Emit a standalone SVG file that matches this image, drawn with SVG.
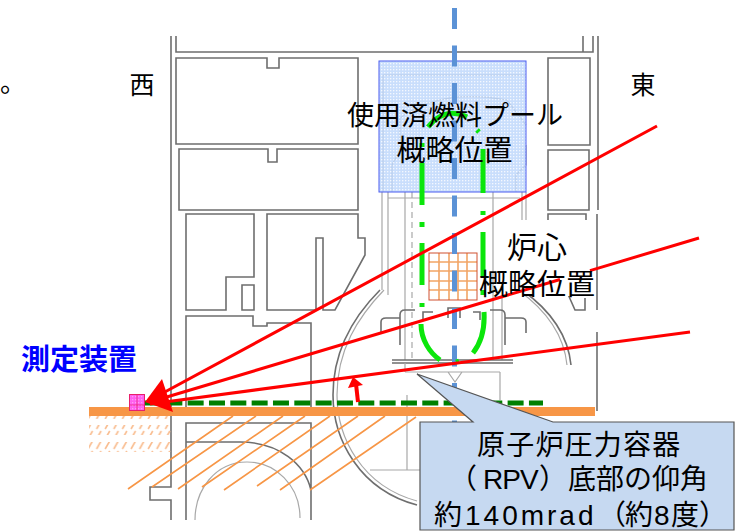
<svg xmlns="http://www.w3.org/2000/svg" width="735" height="532" viewBox="0 0 735 532">
<style>
.w{fill:none;stroke:#6e6e6e;stroke-width:1.6}
.t{fill:none;stroke:#a8a8a8;stroke-width:1.2}
.g{fill:none;stroke:#0be60b;stroke-width:5}
.r{fill:none;stroke:#ff0000;stroke-width:3}
.h{fill:none;stroke:#f79646;stroke-width:1.6}
text{font-family:"Noto Sans CJK JP","Noto Sans",sans-serif;fill:#000;text-anchor:middle}
.c{font-family:"Liberation Sans","Noto Sans CJK JP",sans-serif;font-size:28px;text-anchor:start}
</style>
<defs>
<pattern id="dots" width="3" height="3" patternUnits="userSpaceOnUse"><rect width="3" height="3" fill="#bcd6fb" fill-opacity=".8"/><rect width="1.3" height="1.3" fill="#fff" fill-opacity=".8"/></pattern>
<pattern id="pk" width="3" height="3" patternUnits="userSpaceOnUse"><rect width="3" height="3" fill="#ff5ff0"/><rect width="1.3" height="1.3" fill="#ff9df5"/></pattern>
<pattern id="tk" width="8.6" height="10" patternUnits="userSpaceOnUse"><path d="M2,9 L6.500,1" stroke="#f9bd90" stroke-width="1.6" fill="none"/></pattern>
</defs>
<g id="building">
<path class="w" d="M171,36V487H150V500H171V520M176,36V52H593V36M583,36V52M598,36V210M597,214V310M597,332V411"/>
<path class="w" d="M176,58H267V68H279V58H358V144H176Z"/>
<path class="w" d="M179,149H268V162H277V149H358V210H179Z"/>
<path class="w" d="M186,214H254V277H226V310H186Z"/>
<path class="w" d="M242,285H254V310H242Z"/>
<path class="w" d="M267,214H358V238H365V255L335,310H323V238H316V310H267Z"/>
<path class="w" d="M186,407V316H253V326H267V323H311V407"/>
<path class="w" d="M548,58H590V145H548ZM548,150H589V210H548ZM548,220V214H586V220"/>
<path class="w" d="M563,283L575,310H585V298"/>
<path class="w" d="M186,520V423H311V520M186,442H240C280,442 305,465 311,490"/>
<path class="t" d="M195,520C195,490 215,462 247,462C275,462 300,485 300,518"/>
<path class="t" d="M383,192V75H526M392,192V165L400,150V118Q440,88 507,100L526,125"/>
<path class="t" d="M526,145V165L516,175V192"/>
<path class="w" d="M380,290C355,315 333,350 333,395C333,440 360,490 417,505"/>
<path class="t" d="M384,290C358,317 337,350 337,395C337,438 362,486 417,501"/>
<path class="w" d="M522,290C550,310 568,335 571,365"/>
<path class="t" d="M518,290C546,310 564,335 567,365"/>
<path class="t" d="M382,192V290M388,192V295M522,192V290M526,192V290M388,198H520M493,192V360M502,220V360M405,192V360"/>
<path class="t" stroke-dasharray="6 4" d="M412,192V360"/>
<path class="w" d="M381,333V322Q381,318 386,318H400M400,345V315Q400,310 405,310H415M526,333V322Q526,318 521,318H505M505,345V315Q505,310 500,310H490M423,320V312H433M480,320V312H473M448,318V308H460V318"/>
<path class="w" d="M392,360H513M392,363H513"/>
<path class="t" d="M405,372H500M405,363V372M407,395V470M370,470H420M500,372V400M448,372L455,382L462,372"/>
</g>
<rect x="495" y="220" width="99" height="76" fill="#fff"/>
<g id="pool"><rect x="379" y="61" width="147" height="131" fill="url(#dots)" stroke="#4a5df0" stroke-width="1"/></g>
<g id="core">
<rect x="429" y="253" width="48" height="47" fill="#fff"/>
<path d="M439,253V300M449,253V300M458,253V300M467,253V300M429,262H477M429,271H477M429,281H477M429,290H477" stroke="#f2a566" stroke-width="1.6" fill="none"/>
<rect x="429" y="253" width="48" height="47" fill="none" stroke="#d05030" stroke-width="1"/>
</g>
<g id="ground">
<rect x="89" y="407" width="506" height="9" fill="#f79646"/>
<rect x="89" y="416" width="82" height="3" fill="url(#tk)"/>
<rect x="89" y="425" width="82" height="10" fill="url(#tk)"/>
<rect x="89" y="442" width="82" height="10" fill="url(#tk)"/>
<path class="h" d="M128,489L233,416M152,487L256,416M178,489L283,416M202,487L305,416M224,490L330,416M257,486L358,416M280,490L385,416M310,490L416,417"/>
</g>
<g id="axis"><path d="M454.5,8V424" stroke="#5b92d6" stroke-width="5" stroke-dasharray="21 16.5" fill="none"/></g>
<g id="vessel-outline">
<path class="g" d="M428,127Q445,106 467,117"/>
<path class="g" d="M422,143V147M422,163V205M422,222V227M422,243V285M422,303V307M421,324C421,340 430,353 440,360M456,362L459,361"/>
<path class="g" d="M477,130L479,132M483,149V193M483,211V215M483,232V277M483,290V295M484,312C485,330 481,343 473,353"/>
</g>
<g id="connectors">
<path d="M145,403H543" stroke="#008000" stroke-width="5" stroke-dasharray="16 5.33" fill="none"/>
<path class="r" d="M150,400L657,126M150,402L560,279.500M590,270.600L699,238"/>
<path class="r" d="M150,404L690,332"/>
<polygon points="145,402 162,379 173,412" fill="#ff0000"/>
<path d="M358,402L356,384" stroke="#ff0000" stroke-width="4" fill="none"/>
<polygon points="353,377 348,388 363,385" fill="#ff0000"/>
</g>
<g id="detector">
<rect x="129.500" y="394.500" width="15" height="16" fill="url(#pk)" stroke="#e8206a" stroke-width="1"/>
<path d="M129,405H145M137,394V411" stroke="#e8206a" stroke-width=".7"/>
</g>
<g id="callout">
<path d="M420,422H473L417,374L553,422H734V530H420Z" fill="#c6d9f1" stroke="#555" stroke-width="1.2"/>
<text class="c" x="477" y="455" letter-spacing="1.2">原子炉圧力容器</text>
<text class="c" y="489"><tspan x="449">（</tspan><tspan x="483" letter-spacing="-1">RPV</tspan><tspan x="539">）</tspan><tspan x="568">底部の仰角</tspan></text>
<text class="c" y="525"><tspan x="434">約</tspan><tspan x="465" letter-spacing="3">140mrad</tspan><tspan x="598">（</tspan><tspan x="625">約</tspan><tspan x="654">8</tspan><tspan x="671">度</tspan><tspan x="699">）</tspan></text>
</g>
<g id="labels">
<text x="455" y="125" font-size="27">使用済燃料プール</text>
<text x="454.500" y="161" font-size="29">概略位置</text>
<text x="537" y="258" font-size="30">炉心</text>
<text x="537" y="295" font-size="29">概略位置</text>
<text x="142" y="94" font-size="25">西</text>
<text x="643" y="94" font-size="25">東</text>
<text x="13" y="92" font-size="26">。</text>
<text x="79" y="370" font-size="29" font-weight="700" style="fill:#0000ff">測定装置</text>
</g>
</svg>
